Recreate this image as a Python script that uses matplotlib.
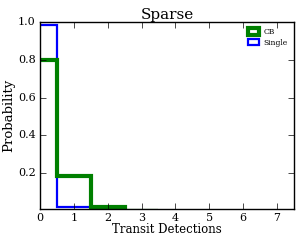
import matplotlib
matplotlib.use("Agg")
import matplotlib.pyplot as plt
from matplotlib.patches import Patch

plt.style.use("classic")
plt.rcParams["font.family"] = ["DejaVu Serif"]

edges = [-0.5, 0.5, 1.5, 2.5, 3.5]
cb_vals = [0.80, 0.185, 0.02, 0.0]
single_vals = [0.985, 0.02, 0.0, 0.0]
labels = ["CB", "Single"]
colors = ["green", "blue"]
widths = [3.0, 1.6]

fig = plt.figure(figsize=(3.0, 2.4), dpi=100)
ax = fig.add_axes([0.133, 0.129, 0.847, 0.779])
ax.stairs(single_vals, edges, color=colors[1], linewidth=widths[1])
ax.stairs(cb_vals, edges, color=colors[0], linewidth=widths[0])
ax.set_xlim(0, 7.5)
ax.set_ylim(0.01, 1.0)
ax.set_xticks(range(0, 8))
ax.set_yticks([0.2, 0.4, 0.6, 0.8, 1.0])
ax.tick_params(labelsize=8, pad=3)
ax.set_title("Sparse", fontsize=11, pad=2)
ax.set_xlabel("Transit Detections", fontsize=8.5, labelpad=0)
ax.set_ylabel("Probability", fontsize=9.5, labelpad=2)
handles = [Patch(facecolor="white", edgecolor=c, linewidth=w, label=l)
           for c, w, l in zip(colors, widths, labels)]
ax.legend(handles=handles, loc="upper right", fontsize=5.5, frameon=False,
          handlelength=1.4, handleheight=1.0, labelspacing=0.3,
          borderaxespad=0.4, handletextpad=0.6)
fig.savefig("out.png", dpi=100)
